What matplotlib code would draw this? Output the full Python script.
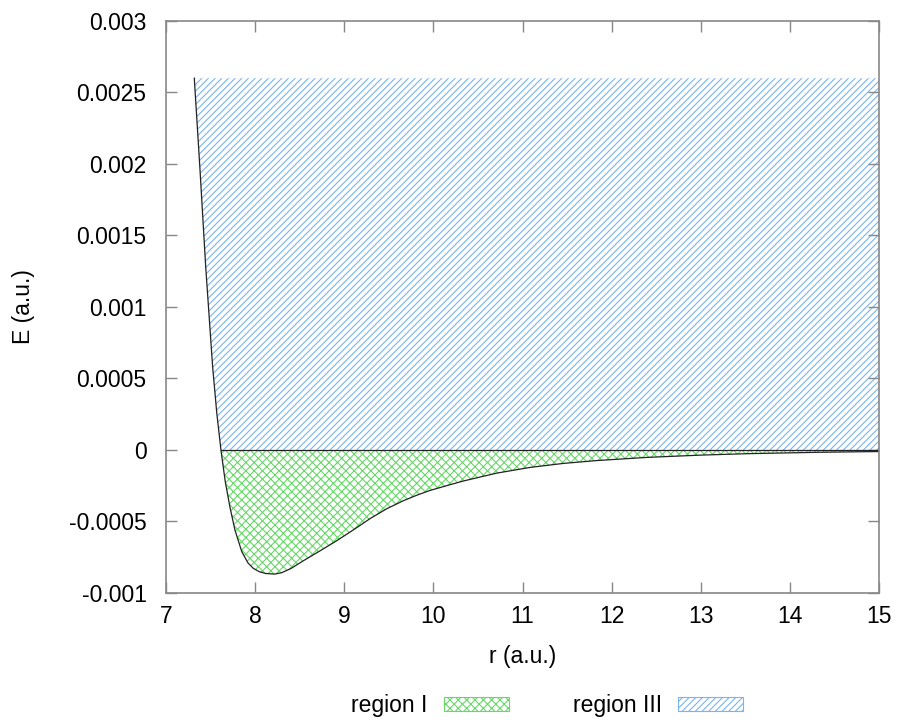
import numpy as np
import matplotlib
matplotlib.use("Agg")
import matplotlib.pyplot as plt
from matplotlib.patches import Rectangle

# potential curve
r = np.array([7.318, 7.382, 7.446, 7.524, 7.570, 7.617, 7.665, 7.718, 7.774, 7.85,
              7.92, 7.98, 8.05, 8.12, 8.22, 8.30, 8.40, 8.541, 8.73, 8.915,
              9.10, 9.29, 9.48, 9.663, 9.82, 9.963, 10.187, 10.337, 10.711, 11.085,
              11.459, 11.834, 12.395, 13.0, 13.52, 14.34, 15.0])
E = np.array([0.0026, 0.00196, 0.00128, 0.00058, 0.00026, 0.0, -0.00022, -0.0004,
              -0.00056, -0.00071, -0.00079, -0.000828, -0.000852, -0.000864, -0.000868,
              -0.000858, -0.00083, -0.000775, -0.000705, -0.000635, -0.00056, -0.00048,
              -0.00041, -0.000355, -0.000315, -0.000283, -0.000243, -0.000217, -0.000162,
              -0.000122, -0.000094, -0.000074, -0.000052, -0.000036, -0.000026, -0.000016,
              -0.000011])
E_top = 0.0026

xticks = [7, 8, 9, 10, 11, 12, 13, 14, 15]
yticks = [-0.001, -0.0005, 0, 0.0005, 0.001, 0.0015, 0.002, 0.0025, 0.003]
ytick_labels = ["-0.001", "-0.0005", "0", "0.0005", "0.001", "0.0015", "0.002", "0.0025", "0.003"]

green = "#66d966"
blue = "#7ab4f0"
fs = 16.5

plt.rcParams['font.family'] = ['Liberation Sans', 'DejaVu Sans']
plt.rcParams['hatch.linewidth'] = 0.8

fig = plt.figure(figsize=(8.97, 7.24), dpi=100)
ax = fig.add_axes([0.185, 0.181, 0.795, 0.790])

# region III: above the curve (or zero) up to the top
ax.fill_between(r, np.maximum(E, 0), E_top, facecolor="none", edgecolor=blue,
                hatch="/////", linewidth=0)
# region I: between the curve and zero
neg = E <= 0
ax.fill_between(r[neg], E[neg], 0, facecolor="none", edgecolor=green,
                hatch="xxxx", linewidth=0)
ax.plot(r, E, color="#222222", lw=0.9)
ax.plot([r[neg][0], r[-1]], [0, 0], color="#222222", lw=0.9)

ax.set_xlim(7, 15)
ax.set_ylim(-0.001, 0.003)
ax.set_xticks(xticks)
ax.set_xticklabels([str(t) for t in xticks])
ax.set_yticks(yticks)
ax.set_yticklabels(ytick_labels)
ax.tick_params(direction="in", length=8, width=1, color="#888888", labelsize=fs,
               top=True, right=True)
ax.tick_params(axis="y", pad=14)
ax.tick_params(axis="x", pad=9)
for s in ax.spines.values():
    s.set_color("#888888")
    s.set_linewidth(1.2)

ax.set_xlabel("r (a.u.)", fontsize=fs, labelpad=12)
ax.set_ylabel("E (a.u.)", fontsize=fs, labelpad=24)

h1 = Rectangle((0, 0), 1, 1, facecolor="none", edgecolor=green, hatch="xxxx", linewidth=0.8)
h2 = Rectangle((0, 0), 1, 1, facecolor="none", edgecolor=blue, hatch="/////", linewidth=0.8)
fig.legend([h1, h2], ["region I", "region III"], loc="center", bbox_to_anchor=(0.61, 0.025),
           ncol=2, frameon=False, fontsize=fs, markerfirst=False, handlelength=2.84,
           handleheight=0.57, handletextpad=0.7, columnspacing=2.8)

fig.savefig("out.png", dpi=100)
